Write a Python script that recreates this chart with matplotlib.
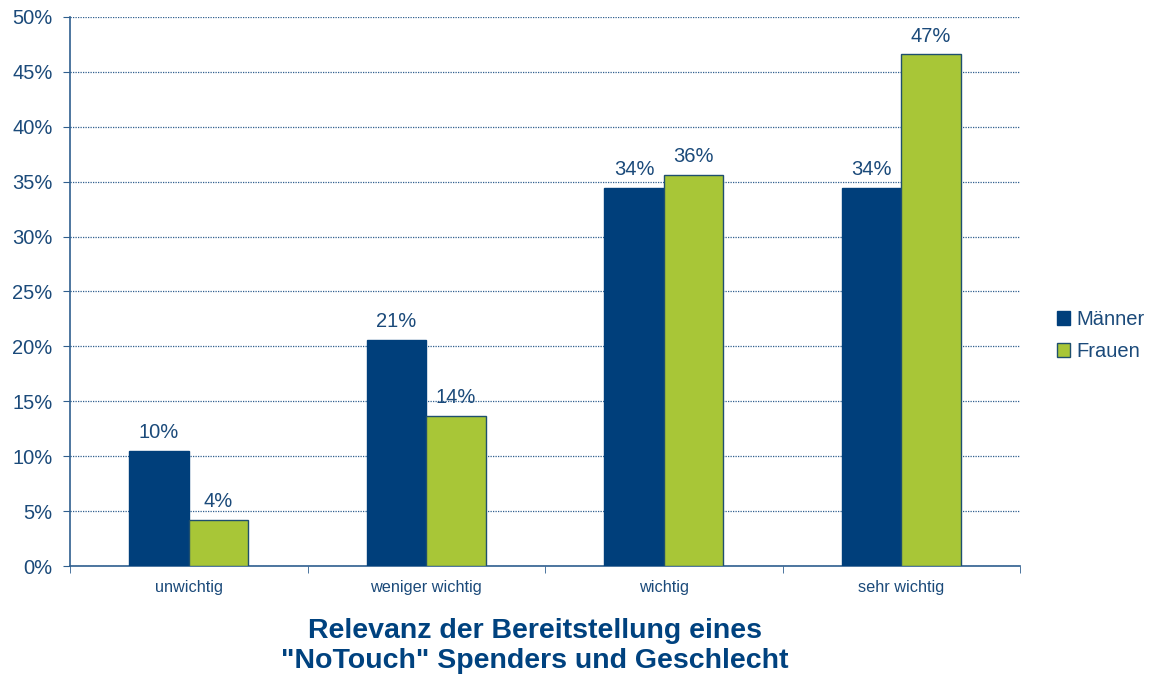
import matplotlib.pyplot as plt
import numpy as np

plt.rcParams['font.family'] = ['Liberation Sans', 'DejaVu Sans']

categories = ['unwichtig', 'weniger wichtig', 'wichtig', 'sehr wichtig']
maenner = [10.47, 20.6, 34.45, 34.45]
frauen = [4.19, 13.65, 35.6, 46.6]
series_names = ['Männer', 'Frauen']

navy = '#003F7B'
green = '#A8C637'
text_blue = '#1B4A7A'

fig = plt.figure(figsize=(11.5, 6.76), dpi=100)
ax = fig.add_axes([0.0609, 0.1627, 0.8261, 0.8122])

x = np.arange(len(categories))
w = 0.25
b1 = ax.bar(x - w / 2, maenner, w, color=navy, edgecolor=navy, linewidth=1, label=series_names[0], zorder=3)
b2 = ax.bar(x + w / 2, frauen, w, color=green, edgecolor='#1F4F6E', linewidth=1, label=series_names[1], zorder=3)

for bars in (b1, b2):
    for r in bars:
        v = r.get_height()
        ax.text(r.get_x() + r.get_width() / 2, v + 0.8, f'{round(v):.0f}%',
                ha='center', va='bottom', fontsize=14.5, color=text_blue)

ax.set_xlim(-0.5, 3.5)
ax.set_ylim(0, 50)
ax.set_yticks(np.arange(0, 51, 5))
ax.set_yticklabels([f'{t}%' for t in range(0, 51, 5)], fontsize=14.5, color=text_blue)

# category labels centered, tick marks between groups
ax.set_xticks(x)
ax.set_xticklabels(categories, fontsize=11.7, color=text_blue)
ax.tick_params(axis='x', length=0, pad=10)
ax.set_xticks(np.arange(-0.5, 3.6, 1), minor=True)
ax.tick_params(axis='x', which='minor', length=5, color='#2F5F8F', direction='out')
ax.tick_params(axis='y', length=5, color='#2F5F8F', direction='out', pad=7.5)

ax.yaxis.grid(True, linestyle=(0, (1, 1)), color='#2F5F8F', linewidth=0.9, zorder=0)
ax.set_axisbelow(True)

for s in ('top', 'right'):
    ax.spines[s].set_visible(False)
for s in ('left', 'bottom'):
    ax.spines[s].set_color('#2F5F8F')
    ax.spines[s].set_linewidth(1.2)

ax.legend(loc='center left', bbox_to_anchor=(1.02, 0.42), frameon=False,
          fontsize=14.5, labelcolor=text_blue, handlelength=0.65, handleheight=0.65,
          handletextpad=0.3, labelspacing=0.65)

fig.text(0.465, 0.003, 'Relevanz der Bereitstellung eines\n"NoTouch" Spenders und Geschlecht',
         ha='center', va='bottom', fontsize=20.5, fontweight='bold', color='#00427F',
         linespacing=1.2)

fig.savefig('out.png', dpi=100)
